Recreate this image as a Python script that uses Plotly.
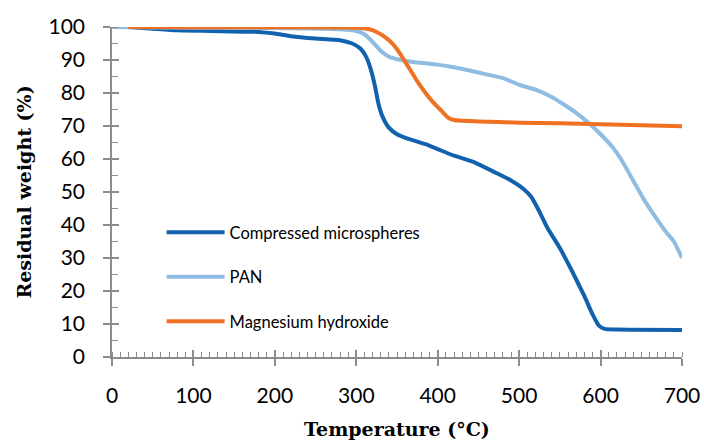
import plotly.graph_objects as go

# Compressed microspheres
cm_t = [20, 50, 80, 120, 180, 200, 220, 250, 280, 295, 305, 312, 318, 323, 327, 332, 340, 350, 365,
        385, 405, 420, 445, 470, 490, 505, 515, 525, 535, 550, 565, 580, 590, 598, 605, 620, 700]
cm_w = [100, 99.5, 99.0, 98.8, 98.5, 98.0, 97.2, 96.5, 96.0, 95.0, 93.5, 91.0, 87.0, 82.0, 77.0, 73.0,
        69.5, 67.5, 66.0, 64.5, 62.5, 61.0, 59.0, 56.0, 53.5, 51.0, 48.5, 44.0, 39.0, 33.0, 26.0, 18.5,
        13.0, 9.5, 8.5, 8.3, 8.2]

# PAN
pan_t = [0, 100, 200, 280, 300, 310, 320, 330, 340, 355, 370, 400, 420, 450, 480, 500, 520, 540, 555,
         570, 585, 600, 615, 625, 640, 655, 670, 680, 690, 700]
pan_w = [100, 99.8, 99.7, 99.3, 98.8, 97.8, 95.5, 92.8, 91.0, 90.0, 89.4, 88.6, 87.8, 86.2, 84.5, 82.5,
         81.0, 78.8, 76.5, 74.0, 71.0, 67.5, 63.5, 60.0, 53.5, 47.0, 41.5, 38.0, 35.0, 30.0]

# Magnesium hydroxide
mh_t = [20, 100, 200, 300, 315, 325, 335, 345, 355, 365, 375, 385, 395, 405, 413, 420, 450, 500, 550,
        600, 650, 700]
mh_w = [100, 99.9, 99.9, 99.8, 99.4, 98.5, 97.0, 94.8, 91.5, 87.5, 83.5, 80.0, 77.0, 74.5, 72.5, 71.8,
        71.4, 71.0, 70.8, 70.5, 70.2, 69.9]

x_ticks = [0, 100, 200, 300, 400, 500, 600, 700]
y_ticks = [0, 10, 20, 30, 40, 50, 60, 70, 80, 90, 100]

series = [
    ("Compressed microspheres", cm_t, cm_w, "#1261AF"),
    ("PAN", pan_t, pan_w, "#8FBCE3"),
    ("Magnesium hydroxide", mh_t, mh_w, "#EE7124"),
]

fig = go.Figure()
for name, t, w, col in series:
    fig.add_trace(go.Scatter(x=t, y=w, mode="lines", name=name, legendgroup=name,
                             line=dict(color=col, width=4, shape="spline", smoothing=0.5)))

axis_col = "#8C8C8C"
tickfont = dict(family="Lato", size=21, color="#000000")
titlefont = dict(family="DejaVu Serif", size=19, color="#000000", weight="bold")
fig.update_layout(
    width=704, height=445,
    margin=dict(l=112, r=22, t=27, b=88),
    paper_bgcolor="white", plot_bgcolor="white",
    showlegend=True,
    legend=dict(x=0.087, y=0.43, xanchor="left", yanchor="top",
                font=dict(family="Lato", size=16.5, color="#000000"),
                itemwidth=58,
                tracegroupgap=20, bgcolor="rgba(0,0,0,0)"),
    xaxis=dict(range=[0, 700], tickvals=x_ticks, showgrid=False, zeroline=False, automargin=False,
               showline=True, linecolor=axis_col, linewidth=1.5,
               ticks="outside", ticklen=7, tickcolor=axis_col, tickwidth=1.5,
               tickfont=tickfont, ticklabelstandoff=12,
               minor=dict(dtick=10, ticks="inside", ticklen=5, tickcolor=axis_col, tickwidth=1),
               title=dict(text="Temperature (°C)", standoff=17, font=titlefont)),
    yaxis=dict(range=[0, 100], tickvals=y_ticks, showgrid=False, zeroline=False, automargin=False,
               showline=True, linecolor=axis_col, linewidth=1.5,
               ticks="outside", ticklen=7, tickcolor=axis_col, tickwidth=1.5,
               tickfont=tickfont, ticklabelstandoff=14,
               minor=dict(dtick=5, ticks="inside", ticklen=6, tickcolor=axis_col, tickwidth=1),
               title=dict(text="Residual weight (%)", standoff=12, font=titlefont)),
    xaxis2=dict(range=[0, 700], tickvals=x_ticks, overlaying="x", matches="x", showgrid=False,
                zeroline=False, showline=False, ticks="inside", ticklen=7, tickcolor=axis_col,
                tickwidth=1.5, showticklabels=False, side="bottom", anchor="y", automargin=False),
    yaxis2=dict(range=[0, 100], tickvals=y_ticks, overlaying="y", matches="y", showgrid=False,
                zeroline=False, showline=False, ticks="inside", ticklen=7, tickcolor=axis_col,
                tickwidth=1.5, showticklabels=False, side="left", anchor="x", automargin=False),
)
# invisible helper trace to activate the secondary tick axes
fig.add_trace(go.Scatter(x=[0], y=[0], xaxis="x2", yaxis="y2", mode="lines",
                         line=dict(width=0), showlegend=False, hoverinfo="skip"))
fig.write_html("out.html")
